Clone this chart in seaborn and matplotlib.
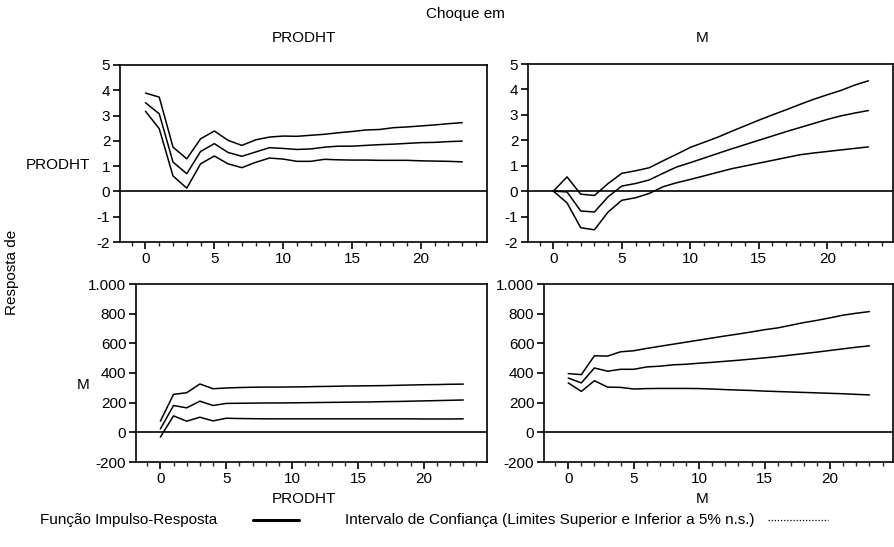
import numpy as np
import pandas as pd
import matplotlib
matplotlib.use("Agg")
import matplotlib.pyplot as plt
import seaborn as sns
from matplotlib.ticker import MultipleLocator, FuncFormatter
from matplotlib.lines import Line2D

steps = list(range(24))

# resposta de PRODHT a choque em PRODHT
prod_prod_sup = [3.89, 3.73, 1.75, 1.29, 2.08, 2.39, 2.02, 1.82, 2.04, 2.15, 2.19, 2.18,
                 2.22, 2.26, 2.32, 2.37, 2.43, 2.45, 2.52, 2.55, 2.59, 2.63, 2.68, 2.72]
prod_prod_irf = [3.51, 3.07, 1.16, 0.70, 1.58, 1.89, 1.54, 1.39, 1.56, 1.73, 1.70, 1.66,
                 1.68, 1.75, 1.79, 1.79, 1.82, 1.85, 1.87, 1.90, 1.93, 1.94, 1.97, 1.99]
prod_prod_inf = [3.17, 2.48, 0.61, 0.13, 1.09, 1.40, 1.09, 0.94, 1.15, 1.32, 1.28, 1.19,
                 1.19, 1.27, 1.25, 1.24, 1.24, 1.23, 1.23, 1.23, 1.21, 1.20, 1.19, 1.17]

# resposta de PRODHT a choque em M
prod_m_sup = [0.0, 0.56, -0.12, -0.17, 0.30, 0.70, 0.80, 0.92, 1.19, 1.45, 1.72, 1.92,
              2.12, 2.35, 2.57, 2.79, 3.00, 3.20, 3.41, 3.61, 3.79, 3.96, 4.17, 4.34]
prod_m_irf = [0.0, -0.03, -0.78, -0.82, -0.22, 0.20, 0.30, 0.44, 0.70, 0.95, 1.12, 1.30,
              1.48, 1.66, 1.83, 2.00, 2.17, 2.34, 2.50, 2.66, 2.82, 2.96, 3.07, 3.17]
prod_m_inf = [0.0, -0.46, -1.44, -1.52, -0.82, -0.36, -0.26, -0.09, 0.17, 0.33, 0.46, 0.60,
              0.74, 0.88, 0.99, 1.10, 1.21, 1.32, 1.43, 1.50, 1.56, 1.62, 1.68, 1.74]

# resposta de M a choque em PRODHT
m_prod_sup = [75, 256, 267, 326, 294, 299, 302, 304, 305, 305, 306, 307,
              309, 310, 312, 313, 314, 315, 317, 319, 321, 322, 324, 325]
m_prod_irf = [23, 181, 165, 210, 181, 195, 196, 197, 198, 198, 199, 200,
              201, 202, 203, 204, 205, 207, 208, 210, 212, 214, 216, 218]
m_prod_inf = [-32, 111, 75, 102, 77, 95, 93, 92, 91, 91, 91, 91,
              91, 91, 91, 91, 91, 91, 91, 91, 90, 90, 90, 91]

# resposta de M a choque em M
m_m_sup = [396, 389, 516, 514, 543, 550, 566, 580, 594, 608, 622, 636,
           650, 663, 677, 692, 704, 722, 740, 755, 772, 790, 803, 814]
m_m_irf = [366, 333, 434, 412, 425, 425, 441, 446, 455, 459, 466, 472,
           479, 486, 494, 502, 511, 521, 531, 541, 552, 563, 574, 583]
m_m_inf = [333, 276, 348, 305, 303, 292, 295, 296, 296, 296, 295, 292,
           288, 285, 282, 278, 275, 272, 269, 266, 263, 260, 256, 252]

sns.set_style("white")
plt.rcParams['font.family'] = ['Liberation Sans', 'DejaVu Sans']
FS = 11

W, H = 894, 547
fig = plt.figure(figsize=(W / 100, H / 100), dpi=100)


def box(l, t, r, b):
    return [l / W, (H - b) / H, (r - l) / W, (b - t) / H]


panels = [
    (box(120, 65, 487, 242), (prod_prod_sup, prod_prod_irf, prod_prod_inf), (-2, 5), 1),
    (box(528, 64, 893, 242), (prod_m_sup, prod_m_irf, prod_m_inf), (-2, 5), 1),
    (box(136, 284, 487, 462), (m_prod_sup, m_prod_irf, m_prod_inf), (-200, 1000), 200),
    (box(544, 284, 893, 462), (m_m_sup, m_m_irf, m_m_inf), (-200, 1000), 200),
]

milhar = FuncFormatter(lambda v, p: f"{int(v):,}".replace(",", "."))

for rect, series, ylim, ystep in panels:
    ax = fig.add_axes(rect)
    for s in series:
        sns.lineplot(x=steps, y=s, ax=ax, color="black", lw=1.1)
    ax.axhline(0, color="black", lw=1.2)
    ax.set_xlim(-1.85, 24.8)
    ax.set_ylim(*ylim)
    ax.xaxis.set_major_locator(MultipleLocator(5))
    ax.xaxis.set_minor_locator(MultipleLocator(1))
    ax.yaxis.set_major_locator(MultipleLocator(ystep))
    ax.yaxis.set_major_formatter(milhar)
    ax.tick_params(axis="both", which="major", direction="out", length=5, width=1.2,
                   labelsize=FS, colors="black", pad=2,
                   bottom=True, left=True, top=False, right=False)
    ax.tick_params(axis="x", which="minor", direction="out", length=3, width=1.0,
                   bottom=True, top=False)
    for sp in ax.spines.values():
        sp.set_color("black")
        sp.set_linewidth(1.2)
    ax.set_xlabel("")
    ax.set_ylabel("")

def ftext(x, y, s, **kw):
    fig.text(x / W, 1 - y / H, s, fontsize=FS, color="black", va="center", **kw)

ftext(465, 14, "Choque em", ha="center")
ftext(304, 38, "PRODHT", ha="center")
ftext(702, 38, "M", ha="center")
ftext(304, 499, "PRODHT", ha="center")
ftext(702, 499, "M", ha="center")
ftext(90, 165, "PRODHT", ha="right")
ftext(90, 385, "M", ha="right")
fig.text(12 / W, 1 - 272 / H, "Resposta de", fontsize=FS, rotation=90,
         ha="center", va="center", color="black")

ftext(40, 520, "Função Impulso-Resposta", ha="left")
fig.add_artist(Line2D([253 / W, 299 / W], [1 - 520 / H, 1 - 520 / H],
                      color="black", lw=2.2, transform=fig.transFigure))
ftext(345, 520, "Intervalo de Confiança (Limites Superior e Inferior a 5% n.s.)", ha="left")
fig.add_artist(Line2D([768 / W, 828 / W], [1 - 520 / H, 1 - 520 / H],
                      color="black", lw=0.9, ls=(0, (1, 1.5)), transform=fig.transFigure))

fig.savefig("out.png", dpi=100)
